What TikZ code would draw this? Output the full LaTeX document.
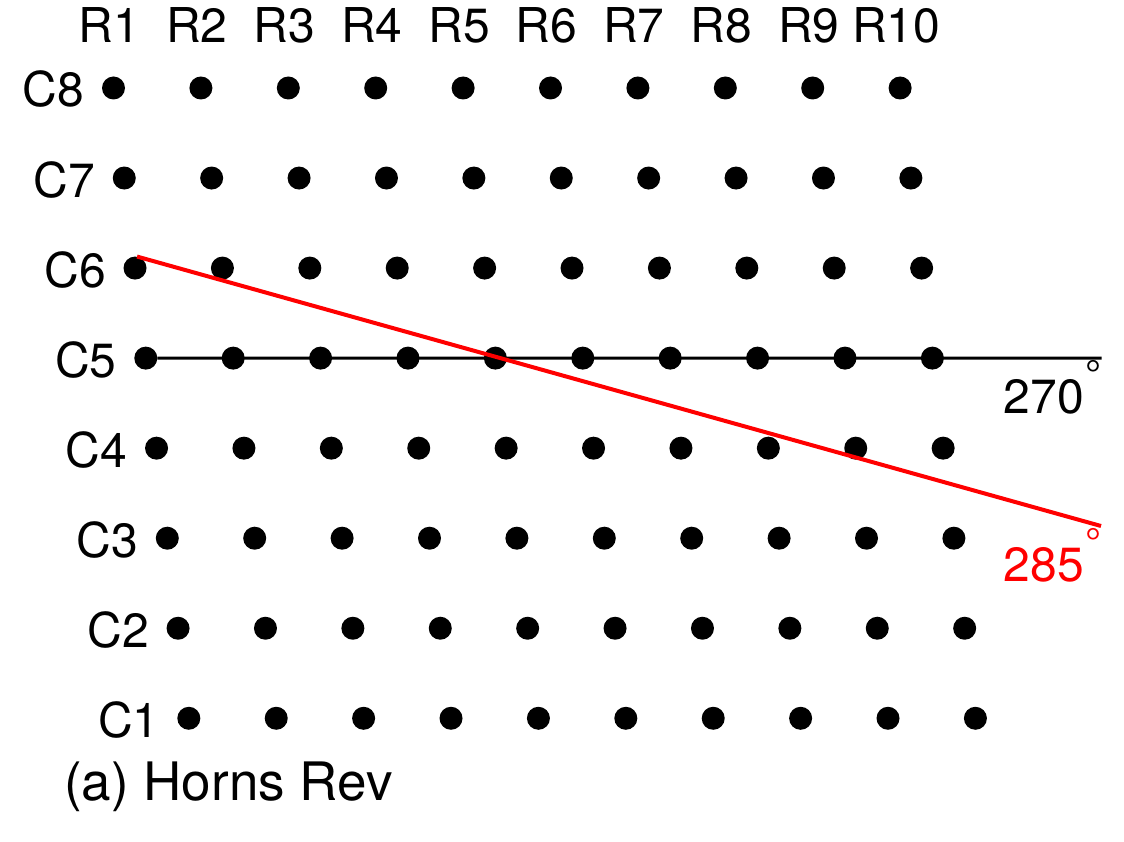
\documentclass[tikz,border=0pt]{standalone}
\usepackage{fontspec}
\setmainfont{TeX Gyre Heros}
\begin{document}
\begin{tikzpicture}[x=1pt,y=-1pt]
  \tikzstyle{v}=[circle, fill, minimum size=23pt, inner sep=0pt]
  \tikzstyle{lab}=[inner sep=0pt, font=\fontsize{48}{56}\selectfont]
  \tikzstyle{deg}=[inner sep=0pt, font=\fontsize{40}{44}\selectfont, anchor=base west]
  \useasboundingbox (0,0) rectangle (1124,842);
  % turbines, column \i, row \j
  \foreach \i in {1,...,10}
    \foreach \j in {1,...,8}
      \node[v] 
        (G-\i-\j) at ({113.5+87.4*(\i-1)+10.76*(8-\j)},{88+90.04*(8-\j)}) {};
  \foreach \j in {1,...,8}
    \node[lab, anchor=base east, xshift=-29pt, yshift=-19pt] 
      (C-\j) at (G-1-\j) {C\j};
  \foreach \i in {1,...,10}
    \node[lab, anchor=base, xshift=-4pt, yshift=45pt] 
      (R-\i) at (G-\i-8) {R\i};
  % wind directions
  \coordinate (e270) at (1101.7,358.1);
  \coordinate (e285) at (1101,526);
  \draw[line width=3pt] (G-1-5) -- (e270);
  \draw[red, line width=4pt] (G-1-6.80) -- (e285);
  \node[lab, anchor=base east] (t270) at (1084,413) {270};
  \node[deg] (d270) at (1085.3,388.8) {°};
  \node[lab, anchor=base east, red] (t285) at (1084,581) {285};
  \node[deg, red] (d285) at (1085.3,556.8) {°};
  \node[inner sep=0pt, anchor=base west, font=\fontsize{53}{60}\selectfont] 
    (cap) at (64,800) {(a) Horns Rev};
\end{tikzpicture}
\end{document}
